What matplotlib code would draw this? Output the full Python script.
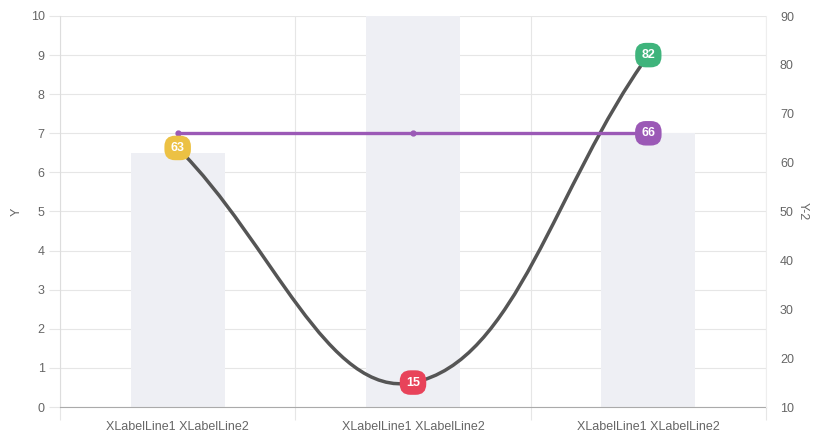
import numpy as np
import matplotlib
matplotlib.use("Agg")
import matplotlib.pyplot as plt
from matplotlib.path import Path
from matplotlib.patches import PathPatch

plt.rcParams['font.family'] = ['Liberation Sans', 'DejaVu Sans']

# data
categories = ["XLabelLine1 XLabelLine2"] * 3
bar_values = [6.5, 10, 7]          # left axis Y
curve_values = [63, 15, 82]        # right axis Y-2
flat_values = [66, 66, 66]         # right axis Y-2
curve_label_colors = ["#ecc144", "#e8435a", "#3fb47c"]
flat_label_color = "#9b59b6"

x = np.arange(len(categories))

fig = plt.figure(figsize=(8.36, 4.44), dpi=100)
ax = fig.add_axes([60/836, 37/444, 706/836, 391/444])
ax2 = ax.twinx()

grid_c = "#e6e6e6"
txt_c = "#666666"

# bars on left axis
ax.bar(x, bar_values, width=0.4, color="#eeeff4", zorder=1)
ax.set_xlim(-0.5, 2.5)
ax.set_ylim(0, 10)
ax.set_yticks(range(0, 11))
ax.set_xticks(x)
ax.set_xticklabels(categories)
ax.set_xticks([-0.5, 0.5, 1.5, 2.5], minor=True)
ax.grid(axis="y", color=grid_c, linewidth=0.8, zorder=0)
ax.grid(axis="x", which="minor", color=grid_c, linewidth=0.8, zorder=0)
ax.set_axisbelow(True)
ax.tick_params(axis="x", which="major", length=0, pad=10, labelsize=9, labelcolor=txt_c)
ax.tick_params(axis="x", which="minor", length=9, color=grid_c, width=0.8)
ax.tick_params(axis="y", length=8, color=grid_c, width=0.8, pad=3, labelsize=9, labelcolor=txt_c)
ax.set_ylabel("Y", color=txt_c, fontsize=9, va="center")
ax.yaxis.set_label_coords(-0.061, 0.5)
for s in ["top", "right"]:
    ax.spines[s].set_visible(False)
ax.spines["left"].set_color("#dddddd")
ax.spines["bottom"].set_color("#aaaaaa")

# right axis
ax2.set_ylim(10, 90)
ax2.set_yticks(range(10, 91, 10))
ax2.tick_params(axis="y", length=0, pad=10, labelsize=9, labelcolor=txt_c)
ax2.set_ylabel("Y-2", color=txt_c, fontsize=9, rotation=270, va="center")
ax2.yaxis.set_label_coords(1.052, 0.5)
for s in ["top", "left", "bottom"]:
    ax2.spines[s].set_visible(False)
ax2.spines["right"].set_color("#eeeeee")

# smooth curve (chart.js style bezier, tension 0.4) in pixel space
fig.canvas.draw()
pts = ax2.transData.transform(np.column_stack([x, curve_values]))
t = 0.4
n = len(pts)
cp_prev = np.zeros_like(pts)
cp_next = np.zeros_like(pts)
for i in range(n):
    p = pts[i]
    pr = pts[i - 1] if i > 0 else p
    nx = pts[i + 1] if i < n - 1 else p
    d01 = np.hypot(*(p - pr))
    d12 = np.hypot(*(nx - p))
    tot = d01 + d12
    s01 = d01 / tot if tot else 0
    s12 = d12 / tot if tot else 0
    cp_prev[i] = p - t * s01 * (nx - pr)
    cp_next[i] = p + t * s12 * (nx - pr)
verts = [pts[0]]
codes = [Path.MOVETO]
for i in range(n - 1):
    verts += [cp_next[i], cp_prev[i + 1], pts[i + 1]]
    codes += [Path.CURVE4] * 3
inv = ax2.transData.inverted()
verts = inv.transform(np.array(verts))
ax2.add_patch(PathPatch(Path(verts, codes), facecolor="none", edgecolor="#555555",
                        linewidth=2.5, zorder=3))

# flat purple line
ax2.plot(x, flat_values, color=flat_label_color, linewidth=2.4, marker="o",
         markersize=3.5, zorder=4)

# labels
def badge(xv, yv, color):
    ax2.text(xv, yv, str(yv), ha="center", va="center", color="white",
             fontsize=9, fontweight="bold", zorder=6,
             bbox=dict(boxstyle="round,pad=0.5,rounding_size=0.85", fc=color, ec="none"))

for xi, yi, c in zip(x, curve_values, curve_label_colors):
    badge(xi, yi, c)
badge(x[-1], flat_values[-1], flat_label_color)

fig.savefig("out.png", dpi=100)
